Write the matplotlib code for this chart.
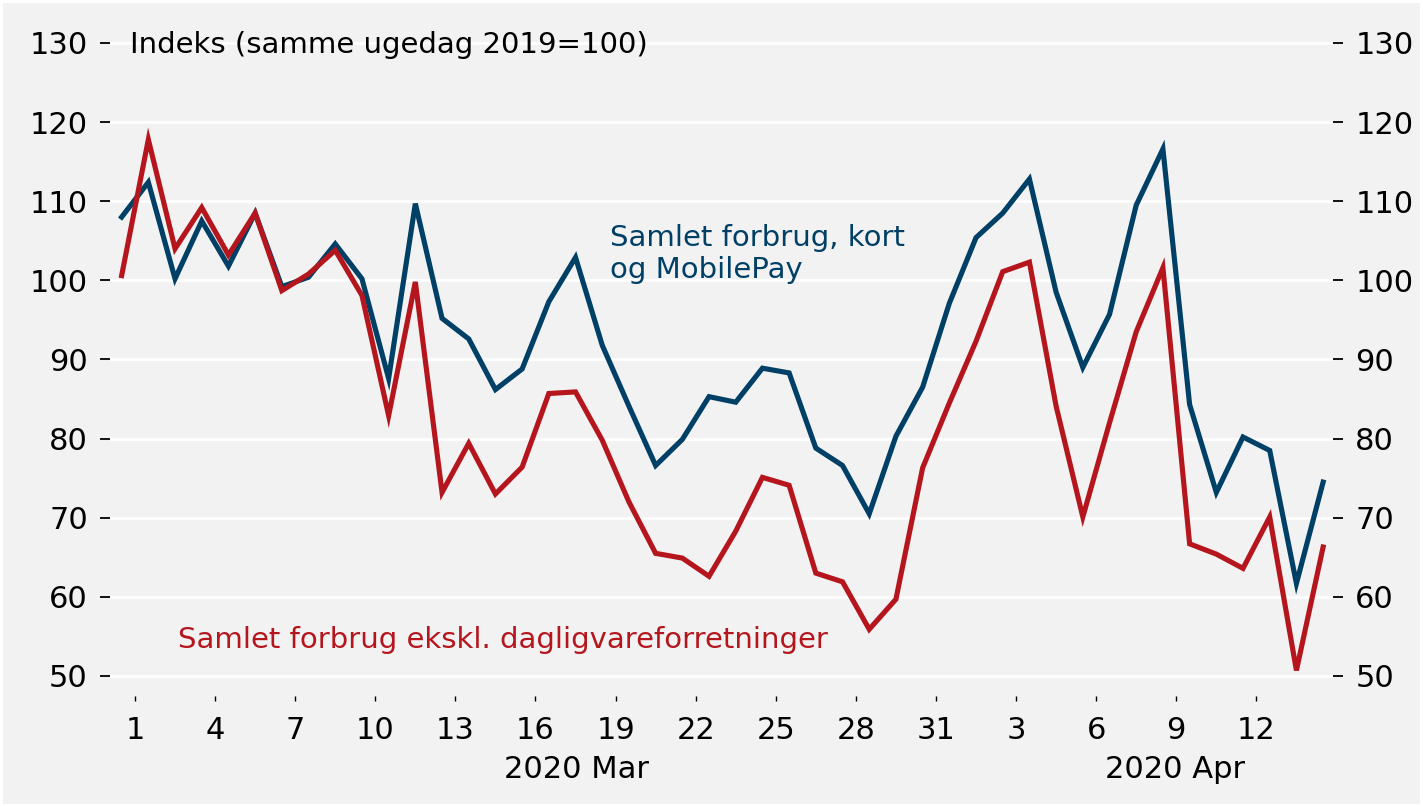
import matplotlib
matplotlib.use("Agg")
import matplotlib.pyplot as plt
from matplotlib.patches import Rectangle

# ---- data ----
dates = (["Feb 29"] + [f"Mar {d}" for d in range(1, 32)] + [f"Apr {d}" for d in range(1, 15)])
blue = [108.0, 112.4, 100.2, 107.5, 101.8, 108.5, 99.2, 100.4, 104.6, 100.2,
        87.6, 109.7, 95.2, 92.6, 86.2, 88.8, 97.3, 102.9, 91.8, 84.1,
        76.6, 79.9, 85.3, 84.6, 88.9, 88.3, 78.8, 76.6, 70.5, 80.3,
        86.5, 97.1, 105.4, 108.5, 112.8, 98.5, 89.0, 95.7, 109.5, 116.6,
        84.3, 73.2, 80.2, 78.5, 61.7, 74.5]
red = [100.6, 117.8, 104.0, 109.2, 103.2, 108.5, 98.7, 100.8, 103.8, 98.1,
       82.9, 99.8, 73.2, 79.4, 73.0, 76.4, 85.7, 85.9, 79.8, 72.0,
       65.5, 64.9, 62.6, 68.3, 75.1, 74.1, 63.0, 61.9, 55.9, 59.7,
       76.3, 84.5, 92.3, 101.1, 102.3, 84.1, 70.1, 82.0, 93.5, 101.6,
       66.7, 65.4, 63.6, 70.1, 50.7, 66.3]
xtick_days = [1, 4, 7, 10, 13, 16, 19, 22, 25, 28, 31, 34, 37, 40, 43]
xtick_labels = ["1", "4", "7", "10", "13", "16", "19", "22", "25", "28", "31",
                "3", "6", "9", "12"]
long_ticks = [1, 34]
yticks = [50, 60, 70, 80, 90, 100, 110, 120, 130]
title = "Indeks (samme ugedag 2019=100)"
label_blue = "Samlet forbrug, kort\nog MobilePay"
label_red = "Samlet forbrug ekskl. dagligvareforretninger"

BLUE = "#003F66"
RED = "#B5161E"
BG = "#F2F2F2"

W, H = 1423, 806
fig = plt.figure(figsize=(W / 100, H / 100), dpi=100, facecolor="white")
fig.patches.append(Rectangle((3 / W, 2 / H), (W - 6) / W, (H - 5) / H,
                             transform=fig.transFigure, facecolor=BG,
                             edgecolor="none", zorder=-10))

left, right, top, bottom = 110, 1333, 30, 696
ax = fig.add_axes([left / W, 1 - bottom / H, (right - left) / W, (bottom - top) / H])
ax.set_facecolor(BG)

xs = [i + 0.5 for i in range(len(dates))]
ax.plot(xs, blue, color=BLUE, lw=3.7, solid_joinstyle="miter", zorder=3)
ax.plot(xs, red, color=RED, lw=3.7, solid_joinstyle="miter", zorder=3)

ax.set_xlim(0.064, 45.87)
ax.set_ylim(47.47, 131.64)

for s in ax.spines.values():
    s.set_visible(False)

TS = 22
ax.set_yticks(yticks)
ax.yaxis.grid(True, color="white", lw=2)
ax.set_axisbelow(True)
ax.tick_params(axis="y", which="major", left=True, right=True, labelleft=True,
               labelright=True, length=7, width=1.3, pad=9, labelsize=TS,
               color="black")

ax.set_xticks(xtick_days)
ax.set_xticklabels(xtick_labels)
ax.set_xticks(long_ticks, minor=True)
ax.tick_params(axis="x", which="major", length=3.5, width=1.0, pad=11,
               labelsize=TS, color="black")
ax.tick_params(axis="x", which="minor", length=7.5, width=1.3, color="black")

trans = ax.get_xaxis_transform()
ax.text(17.55, -0.11, "2020 Mar", transform=trans, ha="center", va="center",
        fontsize=TS)
ax.text(39.95, -0.11, "2020 Apr", transform=trans, ha="center", va="center",
        fontsize=TS)

fig.text(130 / W, 1 - 45 / H, title, ha="left", va="center", fontsize=21,
         color="black")
fig.text(610 / W, 1 - 254 / H, label_blue, ha="left", va="center", fontsize=21,
         color=BLUE, linespacing=1.22)
fig.text(178 / W, 1 - 640 / H, label_red, ha="left", va="center", fontsize=21,
         color=RED)

fig.savefig("out.png", dpi=100, facecolor=fig.get_facecolor())
